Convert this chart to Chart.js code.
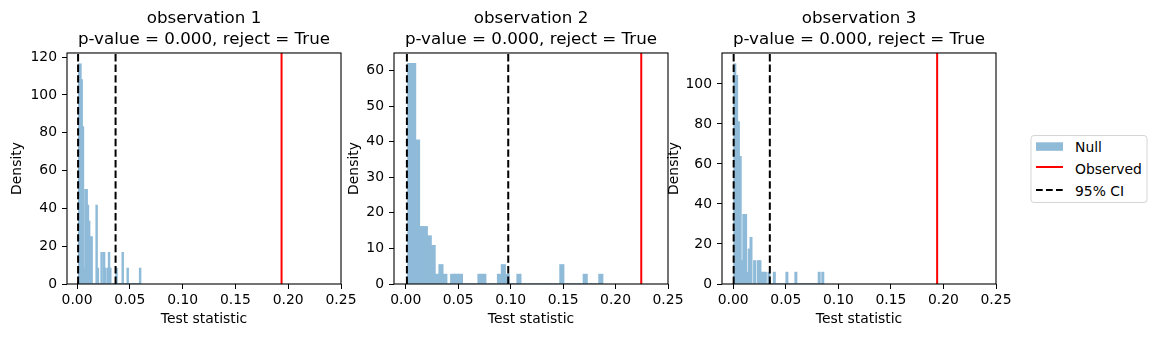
<!DOCTYPE html>
<html>
<head>
<meta charset="utf-8">
<script src="https://cdn.jsdelivr.net/npm/chart.js@4/dist/chart.umd.min.js"></script>
<style>
	body { margin: 0; background: #fff; }
	#wrap { position: relative; width: 1156px; height: 337px; overflow: hidden; }
	#wrap canvas { position: absolute; top: 0; }
	#legend { position: absolute; left: 1030px; top: 134px; }
	#legend text { font-family: "DejaVu Sans", sans-serif; font-size: 13.9px; fill: #000; }
</style>
</head>
<body>
<div id="wrap">
	<canvas id="obs1" width="366" height="337" style="left:0px;width:366px;height:337px"></canvas>
	<canvas id="obs2" width="366" height="337" style="left:327px;width:366px;height:337px"></canvas>
	<canvas id="obs3" width="366" height="337" style="left:655px;width:366px;height:337px"></canvas>
	<svg id="legend" width="122" height="72">
		<rect x="1" y="1.5" width="116" height="67" rx="3" ry="3" fill="#fff" stroke="#d5d5d5" stroke-width="1"></rect>
		<rect x="6" y="8.3" width="27" height="8.5" fill="#8fbbd9"></rect>
		<line x1="6" y1="33" x2="33" y2="33" stroke="#ff0000" stroke-width="2"></line>
		<line x1="6" y1="56" x2="33" y2="56" stroke="#000" stroke-width="2" stroke-dasharray="6.7 3.3"></line>
		<text x="45" y="12.5" dominant-baseline="central">Null</text>
		<text x="45" y="34.5" dominant-baseline="central">Observed</text>
		<text x="45" y="56.5" dominant-baseline="central">95% CI</text>
	</svg>
</div>
<script>
const titles = ['observation 1', 'observation 2', 'observation 3'];
const pValues = [0.000, 0.000, 0.000];
const rejected = [true, true, true];

const xTicks = [0, 0.05, 0.10, 0.15, 0.20, 0.25];
const yTicks1 = [0, 20, 40, 60, 80, 100, 120];
const yTicks2 = [0, 10, 20, 30, 40, 50, 60];
const yTicks3 = [0, 20, 40, 60, 80, 100];

// null distribution histograms: left edge of the first bin, bin width, density of each bin
const binStart1 = 0.0015;
const binWidth1 = 0.001177;
const density1 = [
	116.3, 116.3, 108.0, 83.1, 8.3, 49.9, 49.9, 41.6, 33.2, 24.9,
	24.9, 0, 0, 0, 41.6, 8.3, 0, 0, 16.6, 0,
	16.6, 8.3, 0, 8.3, 16.6, 8.3, 0, 0, 0, 0,
	8.3, 0, 0, 0, 0, 16.6, 0, 0, 0, 8.3,
	0, 0, 0, 0, 0, 0, 0, 0, 0, 8.3
];

const binStart2 = 0.00197;
const binWidth2 = 0.003717;
const density2 = [
	61.9, 61.9, 40.4, 16.1, 16.1, 13.5, 10.8, 2.7, 5.4, 2.7,
	0, 2.7, 2.7, 2.7, 0, 0, 0, 0, 2.7, 2.7,
	0, 0, 0, 2.7, 5.4, 2.7, 0, 0, 2.7, 0,
	0, 0, 0, 0, 0, 0, 0, 0, 0, 5.4,
	0, 0, 0, 0, 0, 2.7, 0, 0, 0, 2.7
];

const binStart3 = 0.00066;
const binWidth3 = 0.001708;
const density3 = [
	110.0, 104.2, 81.1, 63.7, 11.6, 34.7, 34.7, 5.8, 17.4, 23.2,
	0, 11.6, 0, 11.6, 11.6, 5.8, 5.8, 5.8, 0, 5.8,
	0, 0, 5.8, 0, 0, 0, 0, 0, 0, 5.8,
	0, 0, 0, 0, 5.8, 0, 0, 0, 0, 0,
	0, 0, 0, 0, 0, 0, 0, 5.8, 0, 5.8
];

// observed statistic and bounds of the 95% interval of the null
const observed = [0.1937, 0.2245, 0.1940];
const ciLow = [0.0010, 0.0011, 0.0004];
const ciHigh = [0.0365, 0.0977, 0.0348];

const FONT = '"DejaVu Sans", sans-serif';
const tickFont = { family: FONT, size: 13.9 };

// spines on all four sides
const frame = {
	id: 'frame',
	afterDraw(chart) {
		const { ctx, chartArea: a } = chart;
		ctx.save();
		ctx.strokeStyle = '#000';
		ctx.lineWidth = 1.1;
		ctx.strokeRect(a.left, a.top, a.right - a.left, a.bottom - a.top);
		ctx.restore();
	}
};

function vline(x, yMax, color, dash, order) {
	return {
		type: 'line',
		data: [{ x: x, y: 0 }, { x: x, y: yMax }],
		borderColor: color,
		borderWidth: 2,
		borderDash: dash,
		pointRadius: 0,
		order: order
	};
}

function buildPanel(id, k, binStart, binWidth, density, yTicks, xMin, yMax, yTitlePad) {
	const bars = density.map((d, i) => ({ x: binStart + (i + 0.5) * binWidth, y: d }));
	const axisGrid = {
		offset: false,
		drawOnChartArea: false,
		drawTicks: true,
		tickLength: 5,
		color: '#000',
		lineWidth: 1
	};

	new Chart(document.getElementById(id), {
		type: 'bar',
		data: {
			datasets: [
				{
					label: 'Null',
					data: bars,
					// C0 at half alpha over white, kept opaque so neighbouring bins can overlap without seams
					backgroundColor: '#8fbbd9',
					borderWidth: 0,
					barPercentage: 1,
					categoryPercentage: 1,
					inflateAmount: 0.6,
					order: 3
				},
				vline(observed[k], yMax, '#ff0000', [], 2),
				vline(ciLow[k], yMax, '#000', [7.4, 3.2], 1),
				vline(ciHigh[k], yMax, '#000', [7.4, 3.2], 1)
			]
		},
		options: {
			responsive: false,
			animation: false,
			events: [],
			devicePixelRatio: 1,
			layout: { padding: { left: 0, right: 25, top: 0, bottom: 0 } },
			plugins: {
				legend: { display: false },
				tooltip: { enabled: false },
				title: {
					display: true,
					fullSize: false,
					text: [titles[k], 'p-value = ' + pValues[k].toFixed(3) + ', reject = ' + (rejected[k] ? 'True' : 'False')],
					color: '#000',
					font: { family: FONT, size: 16.7, weight: 'normal', lineHeight: 1.26 },
					padding: { top: 8.5, bottom: 2.4 }
				}
			},
			scales: {
				x: {
					type: 'linear',
					min: xMin,
					max: 0.25,
					offset: false,
					grid: axisGrid,
					border: { display: false },
					ticks: {
						font: tickFont,
						color: '#000',
						padding: 3,
						maxRotation: 0,
						autoSkip: false,
						callback: v => v.toFixed(2)
					},
					afterBuildTicks: s => { s.ticks = xTicks.map(v => ({ value: v })); },
					afterFit: s => { s.height = 53; },
					title: {
						display: true,
						text: 'Test statistic',
						color: '#000',
						font: tickFont,
						padding: { top: 0, bottom: 9.5 }
					}
				},
				y: {
					type: 'linear',
					min: 0,
					max: yMax,
					grid: axisGrid,
					border: { display: false },
					ticks: {
						font: tickFont,
						color: '#000',
						padding: 5,
						callback: v => v
					},
					afterBuildTicks: s => { s.ticks = yTicks.map(v => ({ value: v })); },
					afterFit: s => { s.width = 67; },
					title: {
						display: true,
						text: 'Density',
						color: '#000',
						font: tickFont,
						padding: { top: yTitlePad, bottom: 0 }
					}
				}
			}
		},
		plugins: [frame]
	});
}

buildPanel('obs1', 0, binStart1, binWidth1, density1, yTicks1, -0.0095, 122.2, 8.7);
buildPanel('obs2', 1, binStart2, binWidth2, density2, yTicks2, -0.0112, 64.9, 18.7);
buildPanel('obs3', 2, binStart3, binWidth3, density3, yTicks3, -0.0107, 115.5, 10.7);
</script>
</body>
</html>
